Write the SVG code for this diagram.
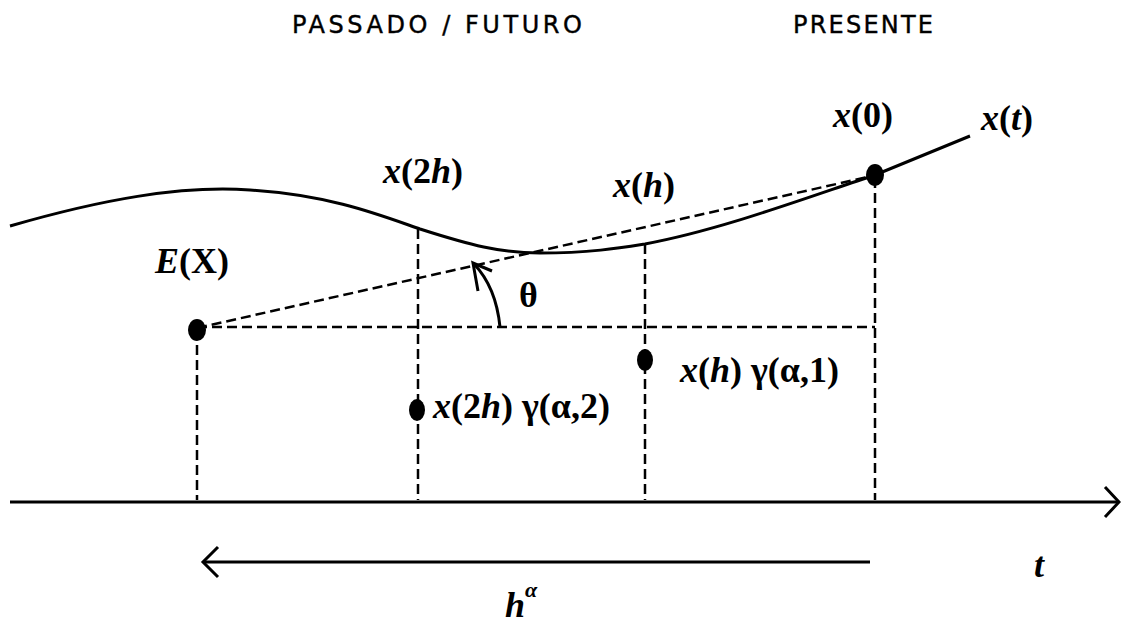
<svg xmlns="http://www.w3.org/2000/svg" width="1121" height="624" viewBox="0 0 1121 624">
<defs>
<style>
.hdr{font-family:"DejaVu Sans","Liberation Sans",sans-serif;font-size:24px;fill:#000;stroke:#000;stroke-width:0.4}
.m{font-family:"Liberation Serif",serif;font-size:36px;font-weight:bold;fill:#000}
.i{font-style:italic}
.dash{stroke:#000;stroke-width:2.5;stroke-dasharray:10 5;fill:none}
.solid{stroke:#000;stroke-width:3;fill:none}
.dot{fill:#000}
</style>
</defs>
<rect width="1121" height="624" fill="#fff"/>
<g id="headers">
<text class="hdr" x="292" y="33" textLength="290" lengthAdjust="spacing">PASSADO / FUTURO</text>
<text class="hdr" x="793" y="33" textLength="140" lengthAdjust="spacing">PRESENTE</text>
</g>
<g id="connectors">
<path id="curve" class="solid" d="M10,226 C100,200 180,185 250,190 C330,195 380,215 420,229 C470,245 500,253 540,253 C590,253 620,248 645,244 C720,230 800,200 875,175 L970,136"/>
<line class="dash" x1="197" y1="328" x2="872" y2="176"/>
<line class="dash" x1="197" y1="327" x2="875" y2="327"/>
<line class="dash" x1="197" y1="330" x2="197" y2="500"/>
<line class="dash" x1="418" y1="229" x2="418" y2="500"/>
<line class="dash" x1="645" y1="244" x2="645" y2="500"/>
<line class="dash" x1="875" y1="178" x2="875" y2="500"/>
<line class="solid" x1="10" y1="502" x2="1118" y2="502"/>
<path class="solid" d="M1105,487 L1119,502 L1105,517"/>
<line class="solid" x1="870" y1="562" x2="203" y2="562"/>
<path class="solid" d="M218,547 L203,562 L218,577"/>
<path class="solid" stroke-width="2.5" d="M500,327 Q496,287 474,264"/>
<path class="solid" stroke-width="2.5" d="M478,291 L473,263 L492,271"/>
</g>
<g id="p0"><ellipse class="dot" cx="875" cy="175" rx="9" ry="11"/><text class="m" x="833" y="127"><tspan class="i">x</tspan>(0)</text></g>
<g id="pt"><text class="m" x="981" y="130"><tspan class="i">x</tspan>(<tspan class="i">t</tspan>)</text></g>
<g id="p2h"><text class="m" x="383" y="183"><tspan class="i">x</tspan>(2<tspan class="i">h</tspan>)</text></g>
<g id="ph"><text class="m" x="613" y="197"><tspan class="i">x</tspan>(<tspan class="i">h</tspan>)</text></g>
<g id="EX"><ellipse class="dot" cx="197" cy="330" rx="9" ry="11"/><text class="m" x="155" y="273"><tspan class="i">E</tspan>(X)</text></g>
<g id="theta"><text class="m" x="519" y="307" font-weight="normal">θ</text></g>
<g id="gh1"><ellipse class="dot" cx="645" cy="360" rx="8" ry="11"/><text class="m" x="680" y="382"><tspan class="i">x</tspan>(<tspan class="i">h</tspan>) γ(α,1)</text></g>
<g id="gh2"><ellipse class="dot" cx="417" cy="410" rx="8" ry="11"/><text class="m" x="433" y="418"><tspan class="i">x</tspan>(2<tspan class="i">h</tspan>) γ(α,2)</text></g>
<g id="tlabel"><text class="m i" x="1034" y="577" font-size="40">t</text></g>
<g id="halpha"><text class="m i" x="505" y="617" font-size="42">h<tspan font-size="22" dy="-20">α</tspan></text></g>
</svg>
